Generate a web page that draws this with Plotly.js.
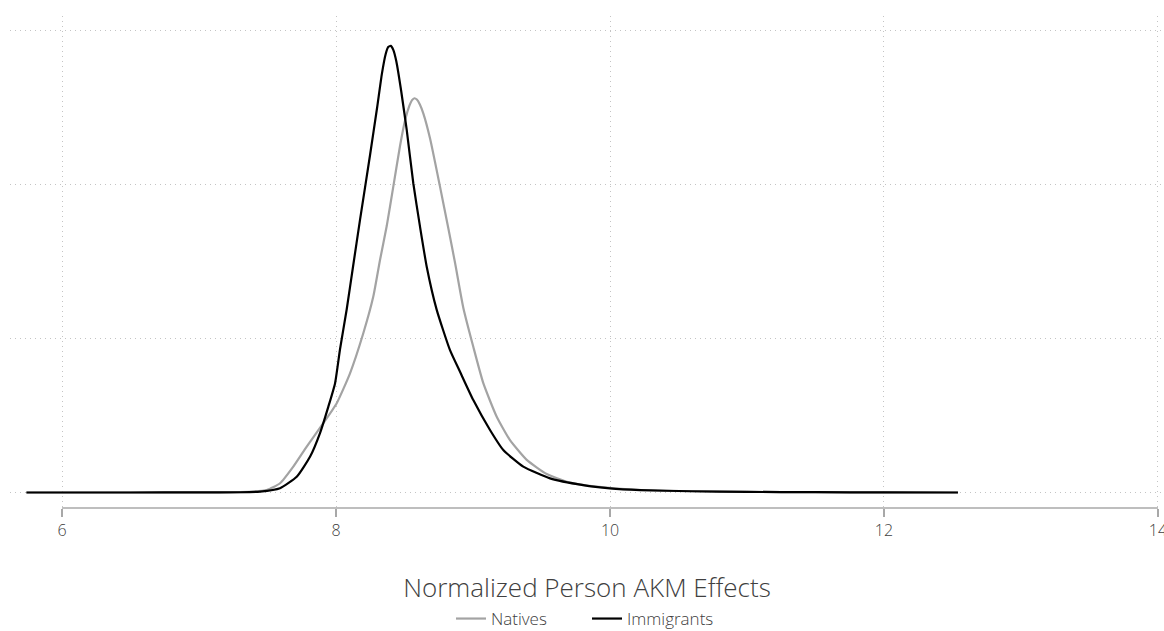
<!DOCTYPE html>
<html>
<head>
<meta charset="utf-8">
<script src="https://cdn.plot.ly/plotly-3.0.1.min.js"></script>
<style>html,body{margin:0;padding:0;background:#fff;}#chart{width:1164px;height:631px;}</style>
</head>
<body>
<div id="chart"></div>
<script>
// Density of normalized person AKM effects
const nativesX = [5.74, 7.0, 7.3, 7.494, 7.591, 7.688, 7.786, 7.907, 8.005, 8.102, 8.199, 8.272, 8.321, 8.370, 8.418, 8.467, 8.505, 8.535, 8.555, 8.572, 8.59, 8.612, 8.637, 8.686, 8.759, 8.820, 8.869, 8.929, 9.002, 9.075, 9.173, 9.270, 9.392, 9.538, 9.7, 9.9, 10.2, 10.6, 11.0, 11.5, 12.0, 12.54];
const nativesY = [0, 0.0003, 0.001, 0.008, 0.030, 0.084, 0.149, 0.225, 0.290, 0.387, 0.517, 0.636, 0.755, 0.865, 0.993, 1.125, 1.210, 1.255, 1.274, 1.28, 1.276, 1.260, 1.231, 1.150, 0.993, 0.857, 0.745, 0.600, 0.473, 0.355, 0.246, 0.170, 0.106, 0.060, 0.033, 0.019, 0.009, 0.004, 0.002, 0.001, 0.0005, 0];
const immigrantsX = [5.74, 6.5, 7.0, 7.3, 7.445, 7.591, 7.713, 7.810, 7.883, 7.944, 7.993, 8.029, 8.078, 8.124, 8.175, 8.248, 8.30, 8.335, 8.362, 8.382, 8.400, 8.418, 8.44, 8.475, 8.516, 8.564, 8.613, 8.662, 8.735, 8.832, 8.905, 9.002, 9.124, 9.221, 9.367, 9.562, 9.805, 10.0, 10.219, 10.6, 11.0, 11.5, 12.0, 12.54];
const immigrantsY = [0, 0, 0.0003, 0.0008, 0.003, 0.014, 0.051, 0.116, 0.193, 0.279, 0.355, 0.465, 0.595, 0.733, 0.885, 1.095, 1.250, 1.360, 1.423, 1.447, 1.450, 1.437, 1.400, 1.305, 1.177, 1.004, 0.863, 0.733, 0.593, 0.462, 0.392, 0.300, 0.203, 0.138, 0.084, 0.046, 0.024, 0.0136, 0.008, 0.004, 0.002, 0.001, 0.0005, 0];
const seriesNames = ["Natives", "Immigrants"];
const xTicks = [6, 8, 10, 12, 14];
const xTitle = "Normalized Person AKM Effects";

const FONT = "Open Sans, Segoe UI, sans-serif";
const GRID_DASH = "1px,4px";
const traces = [
  {x: nativesX, y: nativesY, name: seriesNames[0], type: "scatter", mode: "lines",
   line: {color: "#a3a3a3", width: 2.2, shape: "spline", smoothing: 0.5}},
  {x: immigrantsX, y: immigrantsY, name: seriesNames[1], type: "scatter", mode: "lines",
   line: {color: "#000000", width: 2.2, shape: "spline", smoothing: 0.5}}
];
const layout = {
  width: 1164, height: 631,
  margin: {l: 10, r: 0, t: 16, b: 123, autoexpand: false},
  paper_bgcolor: "#fff", plot_bgcolor: "#fff",
  font: {family: FONT, color: "#404040", weight: 300},
  showlegend: true,
  legend: {orientation: "h", x: 0.5, xanchor: "center", y: -0.2256, yanchor: "middle",
           entrywidth: 91, entrywidthmode: "pixels",
           font: {size: 17, family: FONT, color: "#404040", weight: 300}},
  xaxis: {
    range: [5.62, 14.044], tickmode: "array", tickvals: xTicks, ticktext: xTicks.map(String),
    showline: false, zeroline: false, ticklabeloverflow: "allow",
    showgrid: true, gridcolor: "#c4c4c4", griddash: GRID_DASH, gridwidth: 1,
    ticks: "outside", ticklen: 8, tickwidth: 1.5, tickcolor: "#a8a8a8",
    tickfont: {size: 16, family: FONT, color: "#404040", weight: 300},
    title: {text: xTitle, font: {size: 26, family: FONT, color: "#404040", weight: 300}, standoff: 38}
  },
  yaxis: {
    range: [-0.0503, 1.547], tick0: 0, dtick: 0.5,
    showticklabels: false, ticks: "", showline: false, zeroline: false,
    showgrid: true, gridcolor: "#c4c4c4", griddash: GRID_DASH, gridwidth: 1
  },
  shapes: [
    {type: "line", xref: "x", yref: "paper", x0: 6, x1: 14, y0: 0, y1: 0,
     line: {color: "#a8a8a8", width: 1.5}}
  ]
};
Plotly.newPlot("chart", traces, layout, {displayModeBar: false, staticPlot: true});
</script>
</body>
</html>
